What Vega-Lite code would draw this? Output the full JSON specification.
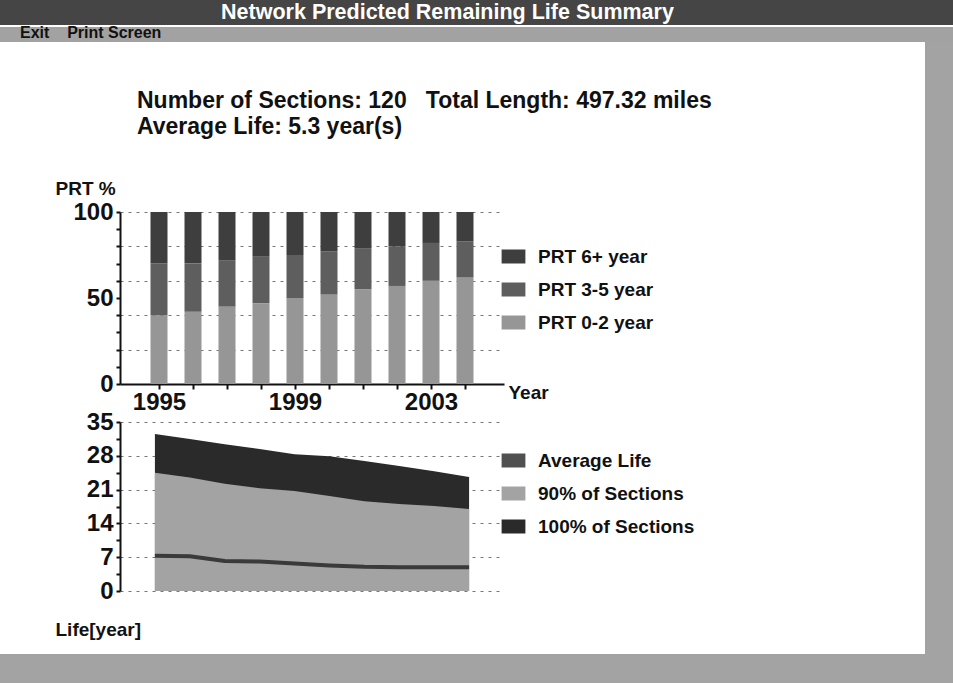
{
  "$schema": "https://vega.github.io/schema/vega-lite/v6.json",
  "padding": 0,
  "spacing": 0,
  "bounds": "full",
  "resolve": {"scale": {"color": "independent"}, "legend": {"color": "independent"}},
  "config": {
    "font": "Liberation Sans",
    "view": {"stroke": null},
    "axis": {
      "labelFont": "Liberation Sans", "labelFontWeight": "bold", "labelFontSize": 24, "labelColor": "#111",
      "titleFont": "Liberation Sans", "titleFontWeight": "bold", "titleFontSize": 19, "titleColor": "#111",
      "domainColor": "#111", "domainWidth": 2, "tickColor": "#111", "tickWidth": 2
    },
    "legend": {
      "labelFont": "Liberation Sans", "labelFontSize": 19, "labelFontWeight": "bold", "labelColor": "#111",
      "symbolType": "M-1.7,-1H1.7V1H-1.7Z", "symbolSize": 196, "symbolStrokeWidth": 0, "symbolOpacity": 1,
      "rowPadding": 13, "labelOffset": 15
    }
  },
  "datasets": {
    "prt": [
      {"year": 1995, "group": "PRT 0-2 year", "pct": 40}, {"year": 1995, "group": "PRT 3-5 year", "pct": 30}, {"year": 1995, "group": "PRT 6+ year", "pct": 30},
      {"year": 1996, "group": "PRT 0-2 year", "pct": 42}, {"year": 1996, "group": "PRT 3-5 year", "pct": 28}, {"year": 1996, "group": "PRT 6+ year", "pct": 30},
      {"year": 1997, "group": "PRT 0-2 year", "pct": 45}, {"year": 1997, "group": "PRT 3-5 year", "pct": 27}, {"year": 1997, "group": "PRT 6+ year", "pct": 28},
      {"year": 1998, "group": "PRT 0-2 year", "pct": 47}, {"year": 1998, "group": "PRT 3-5 year", "pct": 27}, {"year": 1998, "group": "PRT 6+ year", "pct": 26},
      {"year": 1999, "group": "PRT 0-2 year", "pct": 50}, {"year": 1999, "group": "PRT 3-5 year", "pct": 25}, {"year": 1999, "group": "PRT 6+ year", "pct": 25},
      {"year": 2000, "group": "PRT 0-2 year", "pct": 52}, {"year": 2000, "group": "PRT 3-5 year", "pct": 25}, {"year": 2000, "group": "PRT 6+ year", "pct": 23},
      {"year": 2001, "group": "PRT 0-2 year", "pct": 55}, {"year": 2001, "group": "PRT 3-5 year", "pct": 24}, {"year": 2001, "group": "PRT 6+ year", "pct": 21},
      {"year": 2002, "group": "PRT 0-2 year", "pct": 57}, {"year": 2002, "group": "PRT 3-5 year", "pct": 23}, {"year": 2002, "group": "PRT 6+ year", "pct": 20},
      {"year": 2003, "group": "PRT 0-2 year", "pct": 60}, {"year": 2003, "group": "PRT 3-5 year", "pct": 22}, {"year": 2003, "group": "PRT 6+ year", "pct": 18},
      {"year": 2004, "group": "PRT 0-2 year", "pct": 62}, {"year": 2004, "group": "PRT 3-5 year", "pct": 21}, {"year": 2004, "group": "PRT 6+ year", "pct": 17}
    ],
    "life": [
      {"year": 1995, "series": "100% of Sections", "life": 32.5}, {"year": 1996, "series": "100% of Sections", "life": 31.5},
      {"year": 1997, "series": "100% of Sections", "life": 30.4}, {"year": 1998, "series": "100% of Sections", "life": 29.4},
      {"year": 1999, "series": "100% of Sections", "life": 28.3}, {"year": 2000, "series": "100% of Sections", "life": 27.9},
      {"year": 2001, "series": "100% of Sections", "life": 26.9}, {"year": 2002, "series": "100% of Sections", "life": 25.9},
      {"year": 2003, "series": "100% of Sections", "life": 24.8}, {"year": 2004, "series": "100% of Sections", "life": 23.6},
      {"year": 1995, "series": "90% of Sections", "life": 24.5}, {"year": 1996, "series": "90% of Sections", "life": 23.5},
      {"year": 1997, "series": "90% of Sections", "life": 22.2}, {"year": 1998, "series": "90% of Sections", "life": 21.3},
      {"year": 1999, "series": "90% of Sections", "life": 20.7}, {"year": 2000, "series": "90% of Sections", "life": 19.7},
      {"year": 2001, "series": "90% of Sections", "life": 18.6}, {"year": 2002, "series": "90% of Sections", "life": 18.0},
      {"year": 2003, "series": "90% of Sections", "life": 17.6}, {"year": 2004, "series": "90% of Sections", "life": 17.0},
      {"year": 1995, "series": "Average Life", "life": 7.3}, {"year": 1996, "series": "Average Life", "life": 7.2},
      {"year": 1997, "series": "Average Life", "life": 6.2}, {"year": 1998, "series": "Average Life", "life": 6.1},
      {"year": 1999, "series": "Average Life", "life": 5.7}, {"year": 2000, "series": "Average Life", "life": 5.3},
      {"year": 2001, "series": "Average Life", "life": 5.0}, {"year": 2002, "series": "Average Life", "life": 4.9},
      {"year": 2003, "series": "Average Life", "life": 4.9}, {"year": 2004, "series": "Average Life", "life": 4.9}
    ]
  },
  "vconcat": [
    {
      "width": 953, "height": 25,
      "view": {"fill": "#454545", "stroke": null},
      "data": {"values": [{"caption": "Network Predicted Remaining Life Summary"}]},
      "mark": {"type": "text", "color": "#ffffff", "fontSize": 21.5, "fontWeight": "bold", "align": "center", "baseline": "middle", "dx": -29},
      "encoding": {"text": {"field": "caption"}}
    },
    {
      "width": 953, "height": 15,
      "view": {"fill": "#a2a2a2", "stroke": null},
      "title": {"text": "Exit\u00a0\u00a0\u00a0\u00a0Print Screen", "anchor": "start", "orient": "top", "offset": -14, "dx": 20, "fontSize": 16, "fontWeight": "bold", "color": "#111", "font": "Liberation Sans"},
      "data": {"values": []},
      "mark": "text",
      "encoding": {}
    },
    {
      "spacing": 0,
      "bounds": "full",
      "resolve": {"scale": {"color": "independent"}, "legend": {"color": "independent"}},
      "hconcat": [
        {
          "spacing": 0,
          "bounds": "flush",
          "resolve": {"scale": {"color": "independent"}, "legend": {"color": "independent"}},
          "vconcat": [
            {
              "width": 925, "height": 170,
              "title": {"text": ["Number of Sections: 120\u00a0\u00a0\u00a0Total Length: 497.32 miles", "Average Life: 5.3 year(s)"], "anchor": "start", "orient": "top", "offset": -97, "dx": 137, "fontSize": 23, "fontWeight": "bold", "color": "#111", "lineHeight": 26, "font": "Liberation Sans"},
              "data": {"values": []},
              "mark": "text",
              "encoding": {}
            },
            {
              "width": 520, "height": 172,
              "data": {"name": "prt"},
              "mark": {"type": "bar", "size": 17},
              "encoding": {
                "x": {
                  "field": "year", "type": "quantitative",
                  "scale": {"domain": [1994, 2005], "range": [120, 504], "nice": false, "zero": false},
                  "axis": {
                    "values": [1995, 1996, 1997, 1998, 1999, 2000, 2001, 2002, 2003, 2004],
                    "tickCount": 20,
                    "format": "d", "labelExpr": "datum.value % 4 == 3 ? datum.label : ''",
                    "labelOverlap": false, "labelFlush": false, "grid": false,
                    "tickSize": 5, "labelPadding": 1,
                    "title": "Year", "titleX": 508, "titleY": 8, "titleAlign": "left", "titleBaseline": "middle", "titleAngle": 0
                  }
                },
                "y": {
                  "field": "pct", "type": "quantitative", "stack": "zero",
                  "scale": {"domain": [0, 100], "nice": false},
                  "axis": {
                    "values": [0, 10, 20, 30, 40, 50, 60, 70, 80, 90, 100],
                    "tickCount": 20,
                    "offset": -120,
                    "labelExpr": "datum.value == 0 || datum.value == 50 || datum.value == 100 ? datum.label : ''",
                    "labelOverlap": false,
                    "grid": true, "gridDash": [3, 5], "gridColor": "#777777",
                    "gridOpacity": {"condition": {"test": "indexof([0, 20, 40, 60, 80, 100], datum.value) >= 0", "value": 1}, "value": 0},
                    "tickSize": 4, "labelPadding": 3,
                    "title": "PRT %", "titleAngle": 0, "titleX": -65, "titleY": -24, "titleAlign": "left", "titleBaseline": "middle"
                  }
                },
                "color": {
                  "field": "group", "type": "nominal",
                  "scale": {"domain": ["PRT 6+ year", "PRT 3-5 year", "PRT 0-2 year"], "range": ["#3e3e3e", "#5e5e5e", "#969696"]},
                  "legend": {"title": null, "orient": "none", "legendX": 504, "legendY": 35}
                },
                "order": {"field": "group", "sort": "ascending"}
              }
            },
            {
              "width": 925, "height": 38,
              "data": {"values": []},
              "mark": "text",
              "encoding": {}
            },
            {
              "width": 520, "height": 169,
              "data": {"name": "life"},
              "layer": [
                {
                  "transform": [{"filter": "datum.series == '100% of Sections'"}],
                  "mark": {"type": "area"},
                  "encoding": {
                    "x": {"field": "year", "type": "quantitative", "scale": {"domain": [1994, 2005], "range": [120, 504], "nice": false, "zero": false}, "axis": null},
                    "y": {
                      "field": "life", "type": "quantitative", "stack": null,
                      "scale": {"domain": [0, 35], "nice": false},
                      "axis": {
                        "values": [0, 3.5, 7, 10.5, 14, 17.5, 21, 24.5, 28, 31.5, 35],
                        "tickCount": 20,
                        "offset": -120,
                        "labelExpr": "indexof([0, 7, 14, 21, 28, 35], datum.value) >= 0 ? datum.label : ''",
                        "labelOverlap": false,
                        "grid": true, "gridDash": [3, 5], "gridColor": "#777777",
                        "gridOpacity": {"condition": {"test": "indexof([0, 7, 14, 21, 28, 35], datum.value) >= 0", "value": 1}, "value": 0},
                        "tickSize": 4, "labelPadding": 3,
                        "title": "Life[year]", "titleAngle": 0, "titleX": -65, "titleY": 207, "titleAlign": "left", "titleBaseline": "middle"
                      }
                    },
                    "color": {
                      "field": "series", "type": "nominal",
                      "scale": {"domain": ["Average Life", "90% of Sections", "100% of Sections"], "range": ["#505050", "#a3a3a3", "#2a2a2a"]},
                      "legend": {"title": null, "orient": "none", "legendX": 504, "legendY": 29}
                    }
                  }
                },
                {
                  "transform": [{"filter": "datum.series == '90% of Sections'"}],
                  "mark": {"type": "area"},
                  "encoding": {
                    "x": {"field": "year", "type": "quantitative"},
                    "y": {"field": "life", "type": "quantitative", "stack": null},
                    "color": {"field": "series", "type": "nominal"}
                  }
                },
                {
                  "transform": [{"filter": "datum.series == 'Average Life'"}],
                  "mark": {"type": "line", "strokeWidth": 4, "color": "#3a3a3a"},
                  "encoding": {
                    "x": {"field": "year", "type": "quantitative"},
                    "y": {"field": "life", "type": "quantitative"}
                  }
                }
              ]
            },
            {
              "width": 925, "height": 63,
              "data": {"values": []},
              "mark": "text",
              "encoding": {}
            }
          ]
        },
        {
          "width": 28, "height": 612,
          "view": {"fill": "#a3a3a3", "stroke": null},
          "data": {"values": []},
          "mark": "text",
          "encoding": {}
        }
      ]
    },
    {
      "width": 953, "height": 29,
      "view": {"fill": "#a3a3a3", "stroke": null},
      "data": {"values": []},
      "mark": "text",
      "encoding": {}
    }
  ]
}
